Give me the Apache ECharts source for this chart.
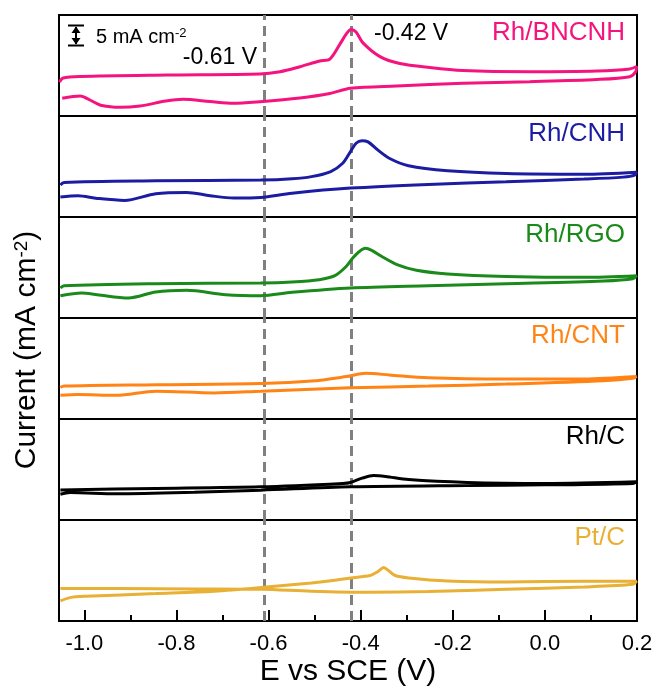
<!DOCTYPE html>
<html>
<head>
<meta charset="utf-8">
<script src="https://cdn.jsdelivr.net/npm/echarts@6/dist/echarts.min.js"></script>
<style>
html,body{margin:0;padding:0;background:#fff;}
#chart{width:659px;height:691px;}
</style>
</head>
<body>
<div id="chart"></div>
<script>
// ---- data (E in V vs SCE, current in mA cm^-2 with per-panel offset) ----
const xMin = -1.055, xMax = 0.2;
const xTicks = [-1.0, -0.8, -0.6, -0.4, -0.2, 0.0, 0.2];
const xMinorTicks = [-0.9, -0.7, -0.5, -0.3, -0.1, 0.1];
const panelNames = ['Rh/BNCNH', 'Rh/CNH', 'Rh/RGO', 'Rh/CNT', 'Rh/C', 'Pt/C'];
const peakPotentials = [-0.613, -0.422];
const peakLabels = ['-0.61 V', '-0.42 V'];

const bncnhFwd = [[-1.054,8.4],[-1.046,9.4],[-1.009,9.8],[-0.821,10.15],[-0.619,10.4],[-0.575,10.97],[-0.532,12.2],[-0.489,13.6],[-0.467,14.1],[-0.445,17.8],[-0.430,20.5],[-0.421,21.4],[-0.410,20.8],[-0.395,18.1],[-0.358,14.7],[-0.315,13.0],[-0.250,12.0],[-0.178,11.26],[-0.033,10.97],[0.113,11.14],[0.184,11.63],[0.199,12.25]];
const bncnhRev = [[0.197,10.9],[0.184,9.73],[0.113,9.03],[-0.033,8.49],[-0.178,8.09],[-0.322,7.43],[-0.422,6.86],[-0.467,5.57],[-0.532,4.46],[-0.619,3.54],[-0.677,3.14],[-0.727,3.59],[-0.786,4.13],[-0.823,3.71],[-0.879,2.48],[-0.923,2.15],[-0.944,2.3],[-0.966,2.72],[-0.988,3.96],[-1.009,4.95],[-1.048,4.38]];

const cnhFwd = [[-1.052,7.9],[-1.044,8.56],[-0.845,8.96],[-0.617,9.13],[-0.549,9.46],[-0.507,10.0],[-0.465,11.26],[-0.439,13.3],[-0.422,16.2],[-0.410,18.26],[-0.397,18.9],[-0.384,18.6],[-0.363,16.6],[-0.338,14.55],[-0.296,12.67],[-0.211,11.43],[-0.084,10.77],[0.085,10.6],[0.199,11.1]];
const cnhRev = [[0.195,10.37],[0.170,9.87],[0.085,9.38],[-0.084,8.71],[-0.253,8.07],[-0.422,7.15],[-0.549,5.9],[-0.617,4.85],[-0.676,4.68],[-0.727,5.27],[-0.778,6.09],[-0.845,5.77],[-0.913,4.1],[-0.972,4.6],[-1.014,5.27],[-1.052,4.93]];

const rgoFwd = [[-1.052,7.43],[-1.044,8.0],[-0.845,8.5],[-0.617,8.66],[-0.549,8.91],[-0.490,9.48],[-0.456,10.47],[-0.431,12.8],[-0.414,15.27],[-0.390,17.25],[-0.376,16.75],[-0.355,15.27],[-0.321,13.2],[-0.279,11.8],[-0.211,10.9],[-0.084,10.3],[0.085,10.07],[0.199,10.47]];
const rgoRev = [[0.191,9.73],[0.127,9.16],[-0.084,8.5],[-0.253,8.0],[-0.422,7.43],[-0.549,6.35],[-0.617,5.5],[-0.693,5.77],[-0.778,6.85],[-0.845,6.44],[-0.904,4.95],[-0.972,5.77],[-1.006,6.2],[-1.052,5.5]];

const cntFwd = [[-1.052,7.8],[-1.044,8.14],[-0.845,8.47],[-0.617,8.8],[-0.507,9.38],[-0.431,10.5],[-0.389,11.3],[-0.338,10.9],[-0.253,10.2],[-0.084,9.9],[0.085,9.9],[0.199,10.5]];
const cntRev = [[0.191,10.07],[0.127,9.48],[-0.084,8.64],[-0.253,8.14],[-0.422,7.72],[-0.617,6.88],[-0.718,6.46],[-0.845,6.88],[-0.930,5.87],[-1.014,6.04],[-1.052,5.87]];

const cFwd = [[-1.052,7.45],[-0.845,7.8],[-0.617,8.22],[-0.439,9.06],[-0.422,9.3],[-0.397,10.35],[-0.372,11.0],[-0.346,10.77],[-0.296,10.0],[-0.169,9.3],[0.0,9.06],[0.199,9.48]];
const cRev = [[0.191,9.06],[0.0,8.7],[-0.169,8.56],[-0.422,8.22],[-0.617,7.38],[-0.761,6.86],[-0.930,6.5],[-1.031,6.78],[-1.052,6.36]];

const ptcFwd = [[-1.052,4.97],[-1.031,5.79],[-0.997,6.11],[-0.845,6.78],[-0.718,7.38],[-0.617,8.27],[-0.507,9.43],[-0.456,10.1],[-0.422,10.67],[-0.380,11.26],[-0.363,12.18],[-0.350,13.24],[-0.339,12.42],[-0.325,11.26],[-0.296,10.67],[-0.211,9.93],[-0.084,9.68],[0.0,9.78],[0.199,9.85]];
const ptcRev = [[0.191,9.1],[0.085,8.44],[-0.084,7.87],[-0.253,7.28],[-0.380,7.12],[-0.507,7.38],[-0.617,7.87],[-0.761,7.95],[-0.930,8.02],[-1.052,8.02]];

const panelData = [
  bncnhFwd.concat(bncnhRev),
  cnhFwd.concat(cnhRev),
  rgoFwd.concat(rgoRev),
  cntFwd.concat(cntRev),
  cFwd.concat(cRev),
  ptcFwd.concat(ptcRev)
];

// ---- styling / layout ----
const FONT = '"Liberation Sans", Arial, Helvetica, sans-serif';
const colors = ['#F5137E', '#1C1CA3', '#1A8A1A', '#FF8415', '#000000', '#E8B034'];
const gLeft = 59, gWidth = 578, gTop = 15, gH = 101;

const grids = [], xAxes = [], yAxes = [], series = [], graphics = [];
for (let i = 0; i < 6; i++) {
  grids.push({left: gLeft, width: gWidth, top: gTop + i * gH, height: gH,
    show: true, borderColor: '#000', borderWidth: 2, backgroundColor: 'transparent'});
  const last = i === 5;
  xAxes.push({
    type: 'value', gridIndex: i, min: xMin, max: xMax,
    axisLine: {show: last, onZero: false, lineStyle: {color: '#000', width: 2}},
    axisTick: {show: last, inside: true, length: 11, lineStyle: {color: '#000', width: 2}, customValues: xTicks},
    axisLabel: {show: last, customValues: xTicks, formatter: v => v.toFixed(1), fontSize: 22, color: '#000', fontFamily: FONT, margin: 12},
    splitLine: {show: false},
    name: last ? 'E vs SCE (V)' : '',
    nameLocation: 'middle', nameGap: 36,
    nameTextStyle: {fontSize: 30, color: '#000', fontFamily: FONT}
  });
  yAxes.push({type: 'value', gridIndex: i, min: 0, max: 25, show: false});
  series.push({
    type: 'line', xAxisIndex: i, yAxisIndex: i,
    data: panelData[i], smooth: 0.3, showSymbol: false,
    lineStyle: {color: colors[i], width: 3}, itemStyle: {color: colors[i]},
    z: 3, silent: true,
    markLine: {
      silent: true, symbol: 'none', label: {show: false}, z: 2,
      lineStyle: {color: '#808080', width: 3, type: [10, 6]},
      data: peakPotentials.map(v => ({xAxis: v}))
    }
  });
  graphics.push({type: 'text', right: 659 - 625, top: gTop + i * gH + 5,
    style: {text: panelNames[i], fill: colors[i], fontSize: 26, fontFamily: FONT}});
}
// minor ticks axis on bottom panel
xAxes.push({
  type: 'value', gridIndex: 5, min: xMin, max: xMax, position: 'bottom',
  axisLine: {show: false},
  axisTick: {show: true, inside: true, length: 6, lineStyle: {color: '#000', width: 2}, customValues: xMinorTicks},
  axisLabel: {show: false}, splitLine: {show: false}
});

// annotations
graphics.push({type: 'text', x: 257, y: 58,
  style: {text: peakLabels[0], fill: '#000', fontSize: 23, fontFamily: FONT, align: 'right', verticalAlign: 'middle'}});
graphics.push({type: 'text', x: 374, y: 34,
  style: {text: peakLabels[1], fill: '#000', fontSize: 23, fontFamily: FONT, align: 'left', verticalAlign: 'middle'}});
// scale bar
graphics.push({type: 'group', children: [
  {type: 'line', shape: {x1: 68, y1: 25.5, x2: 84, y2: 25.5}, style: {stroke: '#000', lineWidth: 2}},
  {type: 'line', shape: {x1: 68, y1: 45.5, x2: 84, y2: 45.5}, style: {stroke: '#000', lineWidth: 2}},
  {type: 'line', shape: {x1: 76, y1: 27, x2: 76, y2: 44}, style: {stroke: '#000', lineWidth: 2}},
  {type: 'polygon', shape: {points: [[71.5, 33], [80.5, 33], [76, 26.5]]}, style: {fill: '#000'}},
  {type: 'polygon', shape: {points: [[71.5, 38], [80.5, 38], [76, 44.5]]}, style: {fill: '#000'}}
]});
graphics.push({type: 'text', x: 96, y: 37,
  style: {text: '5 mA cm{sup|-2}', fill: '#000', fontSize: 20, fontFamily: FONT, verticalAlign: 'middle',
    rich: {sup: {fontSize: 13, fill: '#000', fontFamily: FONT, verticalAlign: 'top', lineHeight: 13}}}});
// y axis title
graphics.push({type: 'text', x: 27, y: 350, rotation: Math.PI / 2,
  style: {text: 'Current (mA cm{sup|-2})', fill: '#000', fontSize: 30, fontFamily: FONT, align: 'center', verticalAlign: 'middle',
    rich: {sup: {fontSize: 19, fill: '#000', fontFamily: FONT, verticalAlign: 'top', lineHeight: 19}}}});

const chart = echarts.init(document.getElementById('chart'), null, {renderer: 'canvas'});
chart.setOption({
  animation: false,
  backgroundColor: '#fff',
  grid: grids, xAxis: xAxes, yAxis: yAxes, series: series, graphic: graphics
});
</script>
</body>
</html>
